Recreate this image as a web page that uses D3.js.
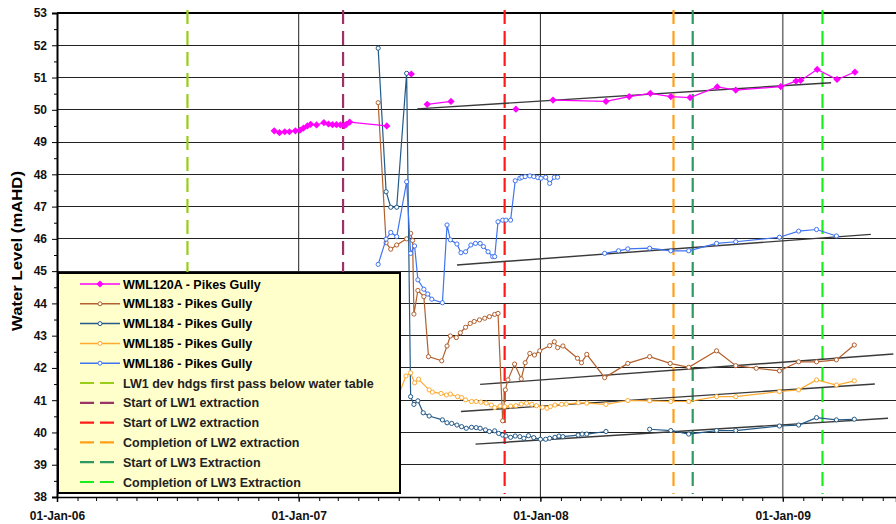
<!DOCTYPE html>
<html>
<head>
<meta charset="utf-8">
<script src="https://cdn.jsdelivr.net/npm/d3@7/dist/d3.min.js"></script>
<style>
  html, body { margin: 0; padding: 0; background: #fff; }
  svg { display: block; font-family: "Liberation Sans", Arial, sans-serif; }
</style>
</head>
<body>
<svg width="896" height="524"></svg>
<script>
(function (d3) {
    'use strict';

    // --- data (date, water level in mAHD); null = gap in line ---
    const wml120a = [
        ['2006-11-25', 49.35], ['2006-12-03', 49.29], ['2006-12-11', 49.32], ['2006-12-18', 49.32],
        ['2006-12-27', 49.35], ['2007-01-03', 49.37], ['2007-01-08', 49.43], ['2007-01-14', 49.50],
        ['2007-01-19', 49.55], ['2007-01-28', 49.53], ['2007-02-08', 49.60], ['2007-02-15', 49.56],
        ['2007-02-21', 49.54], ['2007-02-27', 49.54], ['2007-03-05', 49.53], ['2007-03-11', 49.51],
        ['2007-03-14', 49.55], ['2007-03-19', 49.62], ['2007-05-14', 49.50], ['2007-06-01', null],
        ['2007-06-20', 51.11], ['2007-07-01', null],
        ['2007-07-14', 50.17], ['2007-08-19', 50.26], ['2007-10-01', null],
        ['2007-11-25', 50.02], ['2007-12-20', null],
        ['2008-01-20', 50.30],
        ['2008-04-09', 50.26], ['2008-05-14', 50.41], ['2008-06-15', 50.51], ['2008-07-16', 50.41],
        ['2008-08-14', 50.38], ['2008-09-24', 50.71], ['2008-10-22', 50.61], ['2008-12-29', 50.72],
        ['2009-01-21', 50.89], ['2009-01-28', 50.91], ['2009-02-22', 51.25], ['2009-03-24', 50.94],
        ['2009-04-20', 51.17]
    ];
    const wml183 = [
        ['2007-05-01', 50.22], ['2007-05-13', 45.88], ['2007-05-20', 45.68], ['2007-05-29', 45.81],
        ['2007-06-13', 46.00], ['2007-06-19', 46.17], ['2007-06-22', 45.95], ['2007-06-24', 43.67],
        ['2007-06-30', 44.40], ['2007-07-09', 44.21], ['2007-07-16', 42.35], ['2007-08-05', 42.22],
        ['2007-08-13', 42.68], ['2007-08-18', 42.99], ['2007-08-27', 42.94], ['2007-09-02', 43.09],
        ['2007-09-10', 43.26], ['2007-09-17', 43.38], ['2007-09-23', 43.44], ['2007-10-01', 43.49],
        ['2007-10-09', 43.54], ['2007-10-16', 43.59], ['2007-10-24', 43.66], ['2007-10-29', 43.69],
        ['2007-11-05', 40.36], ['2007-11-09', 41.32], ['2007-11-13', 41.63], ['2007-11-23', 42.12],
        ['2007-12-03', 41.66], ['2007-12-09', 42.16], ['2007-12-16', 42.45], ['2007-12-23', 42.40],
        ['2007-12-31', 42.53], ['2008-01-15', 42.69], ['2008-01-22', 42.81], ['2008-01-27', 42.63],
        ['2008-02-04', 42.68], ['2008-02-26', 42.30], ['2008-03-03', 42.16], ['2008-03-11', 42.42],
        ['2008-04-07', 41.70], ['2008-05-12', 42.14], ['2008-06-14', 42.35], ['2008-07-15', 42.14],
        ['2008-08-12', 42.02], ['2008-09-23', 42.53], ['2008-10-22', 42.07], ['2008-11-22', 41.99],
        ['2008-12-27', 41.91], ['2009-01-25', 42.19], ['2009-02-21', 42.19], ['2009-03-23', 42.25],
        ['2009-04-19', 42.71]
    ];
    const wml184 = [
        ['2007-05-01', 51.91], ['2007-05-13', 47.46], ['2007-05-20', 46.98], ['2007-05-29', 46.98],
        ['2007-06-13', 51.13], ['2007-06-19', 41.11], ['2007-06-24', 40.87], ['2007-06-30', 40.98],
        ['2007-07-08', 40.61], ['2007-07-17', 40.51], ['2007-08-06', 40.39], ['2007-08-13', 40.30],
        ['2007-08-20', 40.28], ['2007-08-28', 40.23], ['2007-09-04', 40.18], ['2007-09-11', 40.13],
        ['2007-09-19', 40.16], ['2007-09-26', 40.15], ['2007-10-02', 40.13], ['2007-10-10', 40.08],
        ['2007-10-16', 40.03], ['2007-10-24', 40.05], ['2007-10-30', 39.97], ['2007-11-05', 39.92],
        ['2007-11-10', 39.89], ['2007-11-17', 39.85], ['2007-11-24', 39.89], ['2007-12-01', 39.87],
        ['2007-12-07', 39.82], ['2007-12-14', 39.90], ['2007-12-22', 39.84], ['2008-01-01', 39.79],
        ['2008-01-09', 39.79], ['2008-01-15', 39.82], ['2008-01-23', 39.85], ['2008-01-29', 39.89],
        ['2008-02-04', 39.87], ['2008-02-27', 39.92], ['2008-03-04', 39.95], ['2008-03-11', 39.95],
        ['2008-04-09', 40.03], ['2008-05-10', null], ['2008-06-14', 40.10], ['2008-07-16', 40.06],
        ['2008-08-12', 39.95], ['2008-09-23', 40.06], ['2008-10-22', 40.06], ['2008-12-27', 40.20],
        ['2009-01-25', 40.23], ['2009-02-21', 40.46], ['2009-03-23', 40.39], ['2009-04-19', 40.41]
    ];
    const wml185 = [
        ['2007-05-31', 41.11], ['2007-06-12', 41.75], ['2007-06-19', 41.85], ['2007-06-25', 41.54],
        ['2007-07-01', 41.65], ['2007-07-17', 41.32], ['2007-07-22', 41.25], ['2007-08-04', 41.21],
        ['2007-08-12', 41.16], ['2007-08-18', 41.19], ['2007-08-29', 41.11], ['2007-09-04', 41.08],
        ['2007-09-10', 41.01], ['2007-09-19', 40.96], ['2007-09-26', 40.96], ['2007-10-03', 40.94],
        ['2007-10-11', 40.91], ['2007-10-19', 40.85], ['2007-10-24', 40.77], ['2007-11-01', 40.82],
        ['2007-11-08', 40.80], ['2007-11-17', 40.82], ['2007-11-25', 40.83], ['2007-12-03', 40.88],
        ['2007-12-11', 40.91], ['2007-12-19', 40.87], ['2007-12-26', 40.83], ['2008-01-04', 40.78],
        ['2008-01-11', 40.75], ['2008-01-16', 40.80], ['2008-01-23', 40.85], ['2008-02-02', 40.87],
        ['2008-02-09', 40.88], ['2008-02-27', 40.92], ['2008-03-11', 40.91], ['2008-04-09', 40.87],
        ['2008-05-12', 40.99], ['2008-06-14', 40.98], ['2008-07-16', 40.96], ['2008-08-12', 40.96],
        ['2008-09-23', 41.11], ['2008-10-22', 41.11], ['2008-12-27', 41.27], ['2009-01-25', 41.32],
        ['2009-02-21', 41.63], ['2009-03-23', 41.47], ['2009-04-19', 41.60]
    ];
    const wml186 = [
        ['2007-05-01', 45.21], ['2007-05-13', 45.99], ['2007-05-20', 46.20], ['2007-05-29', 46.07],
        ['2007-06-13', 47.77], ['2007-06-19', 45.55], ['2007-06-25', 45.78], ['2007-06-30', 44.73],
        ['2007-07-09', 44.44], ['2007-07-15', 44.29], ['2007-07-21', 44.13], ['2007-08-06', 44.02],
        ['2007-08-13', 46.43], ['2007-08-18', 45.97], ['2007-08-28', 45.84], ['2007-09-03', 45.57],
        ['2007-09-10', 45.60], ['2007-09-18', 45.81], ['2007-09-25', 45.86], ['2007-10-02', 45.86],
        ['2007-10-07', 45.76], ['2007-10-14', 45.60], ['2007-10-21', 45.45], ['2007-10-24', 45.45],
        ['2007-10-29', 46.53], ['2007-11-05', 46.58], ['2007-11-10', 46.58], ['2007-11-17', 46.58],
        ['2007-11-24', 47.80], ['2007-12-01', 47.88], ['2007-12-04', 47.91], ['2007-12-09', 47.93],
        ['2007-12-16', 47.95], ['2007-12-22', 47.93], ['2007-12-28', 47.90], ['2008-01-02', 47.88],
        ['2008-01-09', 47.91], ['2008-01-15', 47.72], ['2008-01-22', 47.91], ['2008-01-27', 47.91],
        ['2008-03-01', null], ['2008-04-07', 45.55], ['2008-04-28', 45.63], ['2008-05-12', 45.69],
        ['2008-06-14', 45.71], ['2008-07-16', 45.63], ['2008-08-12', 45.63], ['2008-09-23', 45.86],
        ['2008-10-22', 45.91], ['2008-12-27', 46.05], ['2009-01-25', 46.24], ['2009-02-21', 46.29],
        ['2009-03-23', 46.09]
    ];

    // linear trend lines (start, end)
    const trend120a = [['2007-06-29', 50.03], ['2009-03-15', 50.84]];
    const trend183 = [['2007-10-02', 41.49], ['2009-06-17', 42.43]];
    const trend184 = [['2007-09-25', 39.64], ['2009-06-09', 40.44]];
    const trend185 = [['2007-09-03', 40.65], ['2009-05-20', 41.50]];
    const trend186 = [['2007-08-28', 45.19], ['2009-05-14', 46.14]];

    const eventNames = [
        'LW1 dev hdgs first pass below water table',
        'Start of LW1 extraction',
        'Start of LW2 extraction',
        'Completion of LW2 extraction',
        'Start of LW3 Extraction',
        'Completion of LW3 Extraction'
    ];
    const eventDates = ['2006-07-17', '2007-03-09', '2007-11-08', '2008-07-20', '2008-08-18', '2009-03-02'];
    const eventColors = ['#9acd1a', '#993366', '#ff1a1a', '#ff9f1a', '#2e9960', '#1aee1a'];

    const seriesNames = ['WML120A - Pikes Gully', 'WML183 - Pikes Gully', 'WML184 - Pikes Gully',
        'WML185 - Pikes Gully', 'WML186 - Pikes Gully'];
    const seriesColors = ['#ff00ff', '#b2602e', '#245a88', '#ffab30', '#3f74f2'];

    const yTicks = d3.range(38, 54);
    const xTickDates = ['2006-01-01', '2007-01-01', '2008-01-01', '2009-01-01'];
    const xDomain = ['2006-01-01', '2009-06-21'];

    // --- layout ---
    const svg = d3.select('svg');
    const parse = d3.timeParse('%Y-%m-%d');
    const margin = {left: 57, top: 13, right: 896, bottom: 497};

    const x = d3.scaleTime().domain(xDomain.map(parse)).range([margin.left, margin.right]);
    const y = d3.scaleLinear().domain([38, 53]).range([margin.bottom, margin.top]);

    const toPts = arr => arr.map(d => ({date: parse(d[0]), v: d[1]}));
    const line = d3.line()
        .defined(d => d.v != null)
        .x(d => x(d.date))
        .y(d => y(d.v));

    // horizontal gridlines
    svg.append('g').selectAll('line').data(yTicks.filter(t => t > 38 && t < 53))
        .enter().append('line')
        .attr('x1', margin.left).attr('x2', margin.right)
        .attr('y1', d => y(d)).attr('y2', d => y(d))
        .attr('stroke', '#222').attr('stroke-width', 1).attr('shape-rendering', 'crispEdges');

    // vertical gridlines at years
    svg.append('g').selectAll('line').data(xTickDates.slice(1).map(parse))
        .enter().append('line')
        .attr('x1', d => x(d)).attr('x2', d => x(d))
        .attr('y1', margin.top).attr('y2', margin.bottom)
        .attr('stroke', d => d.getFullYear() === 2009 ? '#777' : '#222')
        .attr('stroke-width', d => d.getFullYear() === 2009 ? 1.6 : 1);

    // axes
    const yAxis = d3.axisLeft(y).tickValues(yTicks).tickSize(5).tickFormat(d3.format('d'));
    const yG = svg.append('g').attr('transform', `translate(${margin.left},0)`).call(yAxis);
    yG.select('.domain').attr('stroke', '#000').attr('stroke-width', 2);
    yG.selectAll('text').attr('font-size', 12).attr('font-weight', 'bold').attr('x', -10).attr('fill', '#111');
    svg.append('g').attr('transform', `translate(${margin.left},0)`)
        .call(d3.axisLeft(y).tickValues(d3.range(38.5, 53, 1)).tickSize(3).tickFormat(''))
        .select('.domain').remove();

    const xMonths = d3.timeMonth.range(parse(xDomain[0]), parse(xDomain[1]));
    svg.append('g').attr('transform', `translate(0,${margin.bottom})`)
        .call(d3.axisBottom(x).tickValues(xMonths).tickSize(4).tickFormat(''))
        .select('.domain').remove();
    const xG = svg.append('g').attr('transform', `translate(0,${margin.bottom})`)
        .call(d3.axisBottom(x).tickValues(xTickDates.map(parse)).tickSize(5)
            .tickFormat(d3.timeFormat('%d-%b-%y')));
    xG.select('.domain').attr('stroke', '#000').attr('stroke-width', 1.5);
    xG.selectAll('text').attr('font-size', 12).attr('font-weight', 'bold').attr('y', 14).attr('fill', '#111');

    // top border
    svg.append('line')
        .attr('x1', margin.left).attr('x2', margin.right)
        .attr('y1', margin.top).attr('y2', margin.top)
        .attr('stroke', '#000').attr('stroke-width', 2);

    // y label
    svg.append('text')
        .attr('transform', 'translate(22,251) rotate(-90)')
        .attr('text-anchor', 'middle')
        .attr('font-size', 14).attr('font-weight', 'bold')
        .attr('textLength', 160).attr('lengthAdjust', 'spacingAndGlyphs')
        .text('Water Level (mAHD)');

    // event lines
    svg.append('g').selectAll('line').data(eventDates)
        .enter().append('line')
        .attr('x1', d => x(parse(d))).attr('x2', d => x(parse(d)))
        .attr('y1', 10).attr('y2', 494)
        .attr('stroke', (d, i) => eventColors[i])
        .attr('stroke-width', 2.2)
        .attr('stroke-dasharray', '14,7');

    // trend lines
    const trends = [trend120a, trend183, trend184, trend185, trend186];
    svg.append('g').selectAll('path').data(trends)
        .enter().append('path')
        .attr('d', d => line(toPts(d)))
        .attr('fill', 'none').attr('stroke', '#3a3a3a').attr('stroke-width', 1.4);

    // series
    const series = [wml120a, wml183, wml184, wml185, wml186];
    const draw = [1, 2, 3, 4, 0];
    draw.forEach(i => {
        const pts = toPts(series[i]);
        const g = svg.append('g');
        g.append('path')
            .attr('d', line(pts))
            .attr('fill', 'none')
            .attr('stroke', seriesColors[i])
            .attr('stroke-width', 1.2);
        const marks = pts.filter(d => d.v != null);
        if (i === 0) {
            g.selectAll('path.m').data(marks).enter().append('path')
                .attr('class', 'm')
                .attr('d', d3.symbol(d3.symbolSquare, 26))
                .attr('transform', d => `translate(${x(d.date)},${y(d.v)}) rotate(45)`)
                .attr('fill', seriesColors[i]);
        } else {
            g.selectAll('circle').data(marks).enter().append('circle')
                .attr('cx', d => x(d.date)).attr('cy', d => y(d.v)).attr('r', 2.1)
                .attr('fill', '#fff').attr('stroke', seriesColors[i]).attr('stroke-width', 1);
        }
    });

    // legend
    const lg = svg.append('g');
    lg.append('rect')
        .attr('x', 58).attr('y', 273).attr('width', 342).attr('height', 220)
        .attr('fill', '#ffffcc').attr('stroke', '#000').attr('stroke-width', 2);
    const rowY = i => 284 + i * 19.8;
    seriesNames.forEach((name, i) => {
        const yy = rowY(i);
        lg.append('line').attr('x1', 80).attr('x2', 120).attr('y1', yy).attr('y2', yy)
            .attr('stroke', seriesColors[i]).attr('stroke-width', 1.5);
        if (i === 0) {
            lg.append('path').attr('d', d3.symbol(d3.symbolSquare, 26))
                .attr('transform', `translate(100,${yy}) rotate(45)`).attr('fill', seriesColors[i]);
        } else {
            lg.append('circle').attr('cx', 100).attr('cy', yy).attr('r', 2)
                .attr('fill', '#fff').attr('stroke', seriesColors[i]);
        }
        lg.append('text').attr('x', 123).attr('y', yy + 4.5)
            .attr('font-size', 12.5).attr('font-weight', 'bold').text(name);
    });
    eventNames.forEach((name, i) => {
        const yy = rowY(i + 5);
        lg.append('line').attr('x1', 80).attr('x2', 114).attr('y1', yy).attr('y2', yy)
            .attr('stroke', eventColors[i]).attr('stroke-width', 2.2)
            .attr('stroke-dasharray', '14,6');
        lg.append('text').attr('x', 123).attr('y', yy + 4.5)
            .attr('font-size', 12.5).attr('font-weight', 'bold').attr('fill', '#222').text(name);
    });
}(d3));
</script>
</body>
</html>
